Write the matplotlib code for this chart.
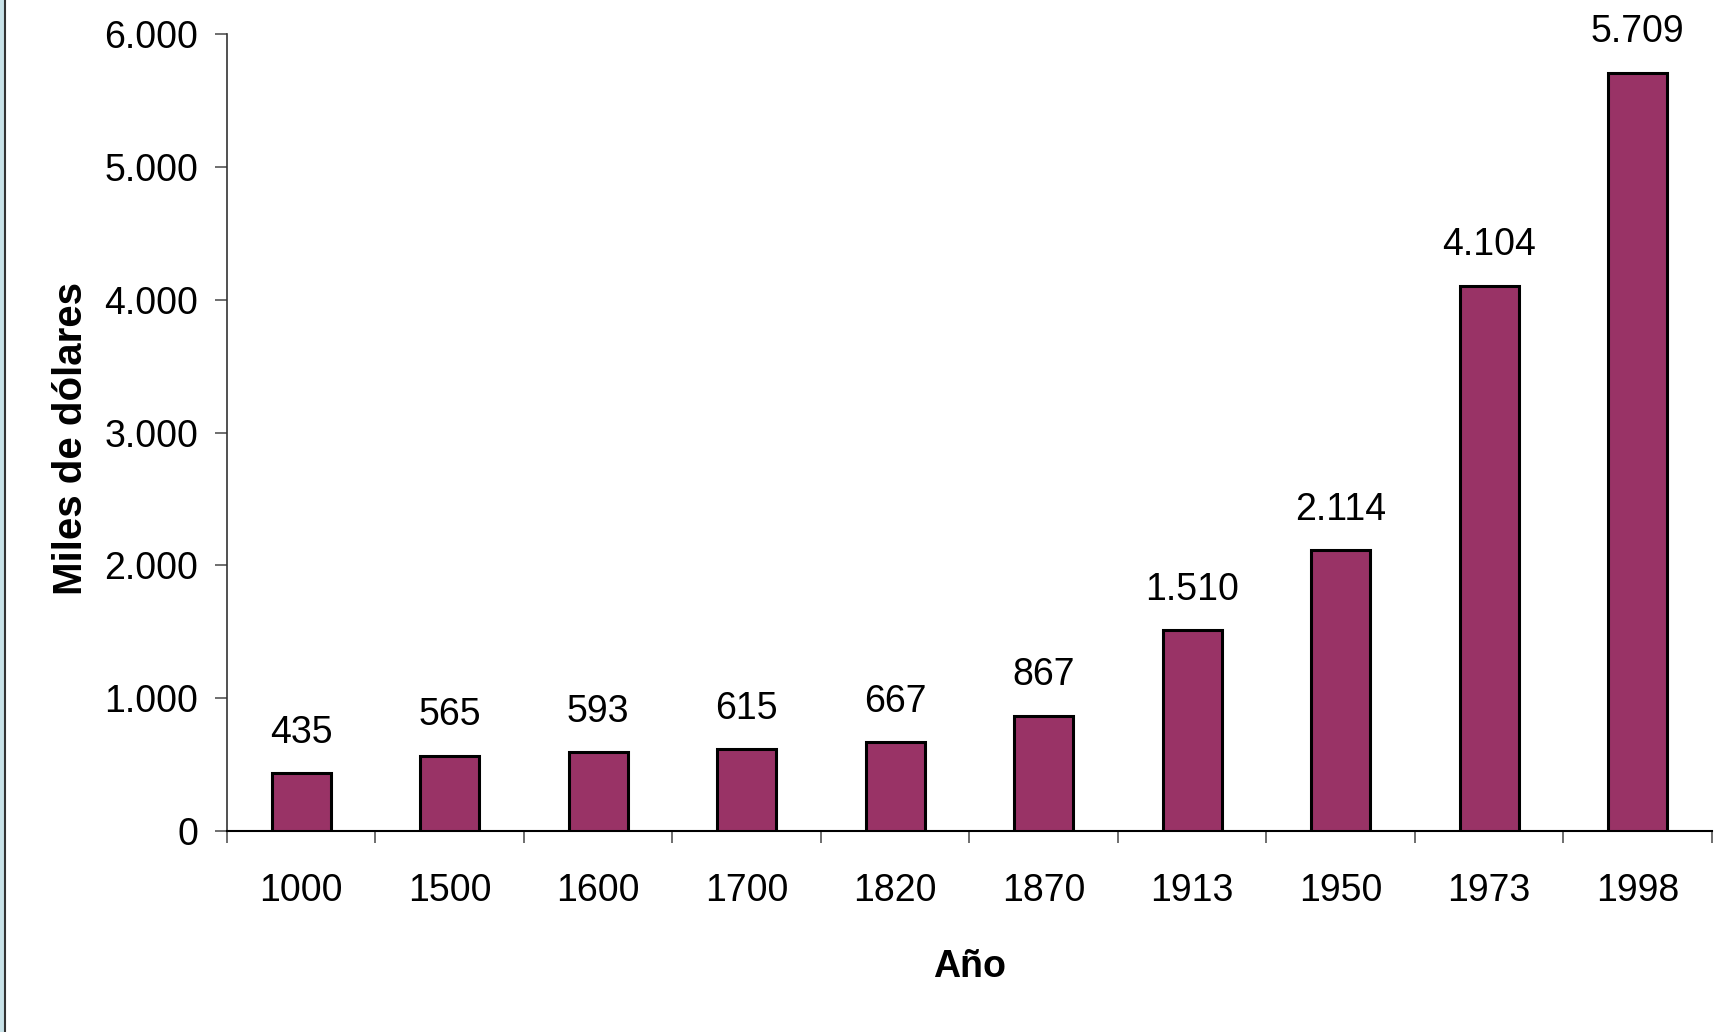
import matplotlib.pyplot as plt
from matplotlib.patches import Rectangle
from matplotlib.lines import Line2D

plt.rcParams['font.family'] = ['Liberation Sans', 'DejaVu Sans']

years = ['1000', '1500', '1600', '1700', '1820', '1870', '1913', '1950', '1973', '1998']
values = [435, 565, 593, 615, 667, 867, 1510, 2114, 4104, 5709]
y_ticks = [0, 1000, 2000, 3000, 4000, 5000, 6000]


def fmt(v):
    # thousands separator with a dot, spanish style
    return '{:,}'.format(v).replace(',', '.')


fig = plt.figure(figsize=(17.34, 10.32), dpi=100)
ax = fig.add_axes([0.1309, 0.1948, 0.8564, 0.7722])

x = list(range(len(years)))
bars = ax.bar(x, values, width=0.40, color='#993366', edgecolor='black', linewidth=2.2, zorder=3)

for xi, v in zip(x, values):
    ax.annotate(fmt(v), (xi, v), xytext=(0, 22), textcoords='offset points',
                ha='center', va='baseline', fontsize=27)

ax.set_xlim(-0.5, len(years) - 0.5)
ax.set_ylim(0, 6000)

ax.set_yticks(y_ticks)
ax.set_yticklabels([fmt(t) for t in y_ticks], fontsize=27)
ax.tick_params(axis='y', direction='out', length=8.6, width=1.2, color='#555555', pad=12)

# excel style: tick marks between categories, labels under categories
ax.set_xticks([i - 0.5 for i in range(len(years) + 1)])
ax.set_xticklabels([])
ax.set_xticks(x, minor=True)
ax.set_xticklabels(years, minor=True, fontsize=27)
ax.tick_params(axis='x', which='major', direction='out', length=8.6, width=1.2, color='#555555')
ax.tick_params(axis='x', which='minor', length=0, pad=30)

for s in ['top', 'right']:
    ax.spines[s].set_visible(False)
ax.spines['left'].set_color('#333333')
ax.spines['bottom'].set_color('black')
ax.spines['left'].set_linewidth(1.2)
ax.spines['bottom'].set_linewidth(1.5)

ax.set_ylabel('Miles de dólares', fontsize=29, fontweight='bold')
ax.set_xlabel('Año', fontsize=27, fontweight='bold', labelpad=29)
ax.yaxis.set_label_coords(-0.092, 0.493)

# left border strip of the slide
fig.patches.append(Rectangle((0, 0), 4 / 1734, 1, transform=fig.transFigure,
                             facecolor='#c8e2e8', edgecolor='none'))
fig.lines.append(Line2D([4.5 / 1734, 4.5 / 1734], [0, 1], transform=fig.transFigure,
                        color='#333333', linewidth=1.5))

fig.savefig('out.png', dpi=100)
